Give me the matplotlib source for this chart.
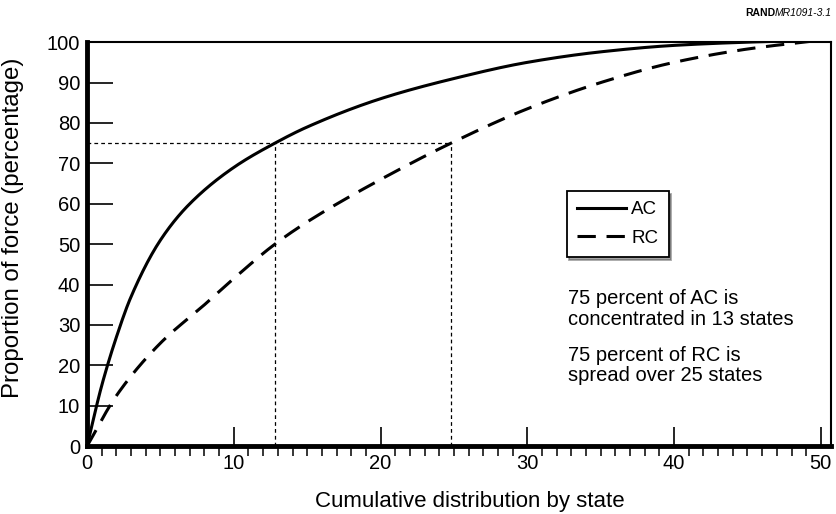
import matplotlib.pyplot as plt
import numpy as np

plt.rcParams['font.family'] = ['Liberation Sans', 'DejaVu Sans']

# curves
states = [0, 1, 2, 3, 5, 7, 10, 12.8, 15, 20, 25, 30, 35, 40, 45, 50]
ac = [0, 15, 27, 37, 51, 60, 69, 75, 79, 86, 91, 95, 97.6, 99.2, 100, 100.5]
rc_states = [0, 2, 5, 8, 10, 12.8, 15, 20, 24.8, 30, 35, 40, 45, 50]
rc = [0, 12.5, 25.5, 35, 41.5, 50, 55.5, 66, 75, 83.5, 90, 95, 98.3, 100.5]

ac_cut = 12.8
rc_cut = 24.8
level = 75


def smooth(x, y, xs):
    # monotone cubic (Fritsch-Carlson) through the read points
    x = np.asarray(x, float)
    y = np.asarray(y, float)
    h = np.diff(x)
    d = np.diff(y) / h
    m = np.zeros_like(y)
    m[0], m[-1] = d[0], d[-1]
    for i in range(1, len(x) - 1):
        if d[i - 1] * d[i] > 0:
            w1 = 2 * h[i] + h[i - 1]
            w2 = h[i] + 2 * h[i - 1]
            m[i] = (w1 + w2) / (w1 / d[i - 1] + w2 / d[i])
    idx = np.clip(np.searchsorted(x, xs) - 1, 0, len(x) - 2)
    t = (xs - x[idx]) / h[idx]
    h00 = 2 * t**3 - 3 * t**2 + 1
    h10 = t**3 - 2 * t**2 + t
    h01 = -2 * t**3 + 3 * t**2
    h11 = t**3 - t**2
    return h00 * y[idx] + h10 * h[idx] * m[idx] + h01 * y[idx + 1] + h11 * h[idx] * m[idx + 1]


fig = plt.figure(figsize=(8.37, 5.14), dpi=100)
ax = fig.add_axes([0.104, 0.132, 0.889, 0.786])

xs = np.linspace(0, 50, 500)
ax.plot(xs, smooth(states, ac, xs), 'k-', lw=2.2, label='AC')
ax.plot(xs, smooth(rc_states, rc, xs), 'k-', lw=2.2, dashes=(6, 3.5), label='RC')

ax.plot([0, rc_cut], [level, level], 'k--', lw=0.9, dashes=(3, 2.5))
ax.plot([ac_cut, ac_cut], [0, level], 'k--', lw=0.9, dashes=(3, 2.5))
ax.plot([rc_cut, rc_cut], [0, level], 'k--', lw=0.9, dashes=(3, 2.5))

ax.set_xlim(0, 50.7)
ax.set_ylim(0, 100)
ax.set_xticks(range(0, 51, 10))
ax.set_xticks(range(0, 51), minor=True)
ax.set_yticks(range(0, 101, 10))
ax.tick_params(axis='both', direction='in', labelsize=14.5, width=1.2)
ax.tick_params(axis='x', which='major', length=14, pad=6)
ax.tick_params(axis='x', which='minor', length=7, width=1.1)
ax.tick_params(axis='y', which='major', length=19, pad=5)

ax.spines['left'].set_linewidth(3.5)
ax.spines['bottom'].set_linewidth(3.5)
ax.spines['top'].set_linewidth(1.5)
ax.spines['right'].set_linewidth(1.5)

ax.set_xlabel('Cumulative distribution by state', fontsize=16)
ax.xaxis.set_label_coords(0.515, -0.11)
ax.set_ylabel('Proportion of force (percentage)', fontsize=17.3)
ax.yaxis.set_label_coords(-0.085, 0.54)

leg = ax.legend(loc='upper left', bbox_to_anchor=(0.632, 0.655), fontsize=13.5,
                frameon=True, fancybox=False, shadow=True, handlelength=2.6,
                borderpad=0.55, labelspacing=0.6, handletextpad=0.3)
leg.get_frame().set_edgecolor('black')
leg.get_frame().set_linewidth(1.3)

ax.text(0.647, 0.34, '75 percent of AC is\nconcentrated in 13 states',
        transform=ax.transAxes, fontsize=14.5, va='center', linespacing=1.1)
ax.text(0.647, 0.20, '75 percent of RC is\nspread over 25 states',
        transform=ax.transAxes, fontsize=14.5, va='center', linespacing=1.1)

# figure id in the top right corner: bold RAND then italic number
mr = fig.text(0.994, 0.985, 'MR1091-3.1', ha='right', va='top', fontsize=7.5, style='italic')
fig.canvas.draw()
mr_left = mr.get_window_extent().x0 / fig.bbox.width
fig.text(mr_left, 0.985, 'RAND', ha='right', va='top', fontsize=7.5, fontweight='bold')

fig.savefig('out.png', dpi=100)
